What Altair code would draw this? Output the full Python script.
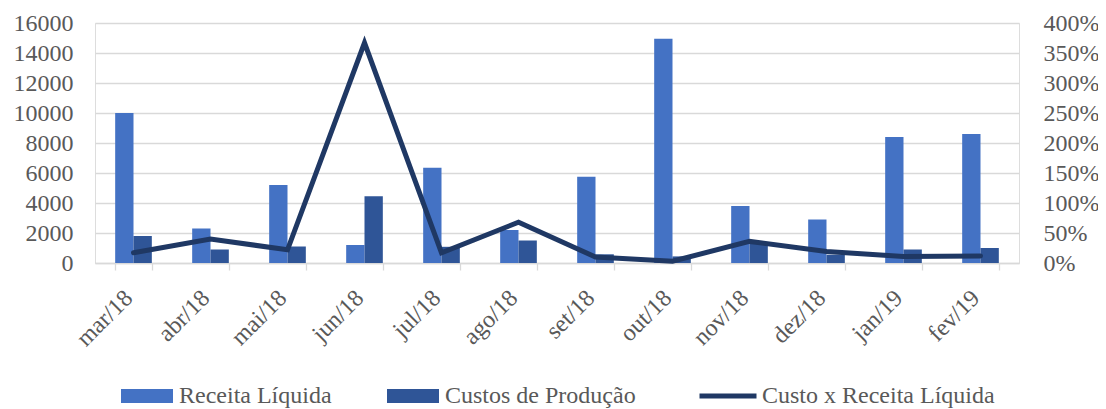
import altair as alt
import pandas as pd

months = ["mar/18", "abr/18", "mai/18", "jun/18", "jul/18", "ago/18",
          "set/18", "out/18", "nov/18", "dez/18", "jan/19", "fev/19"]
receita = [10000, 2300, 5200, 1200, 6350, 2200, 5750, 14950, 3800, 2900, 8400, 8600]
custos = [1800, 900, 1100, 4450, 1080, 1500, 580, 440, 1370, 550, 900, 1000]
ratio = [0.17, 0.40, 0.22, 3.67, 0.17, 0.68, 0.10, 0.03, 0.36, 0.19, 0.11, 0.115]

bar_names = ["Receita Líquida", "Custos de Produção"]
line_name = "Custo x Receita Líquida"
bar_colors = ["#4472C4", "#2F5597"]
line_color = "#1F3864"

left_ticks = list(range(0, 16001, 2000))
right_ticks = [i * 0.5 for i in range(9)]

bars_df = pd.DataFrame(
    [{"month": m, "series": bar_names[0], "value": v} for m, v in zip(months, receita)]
    + [{"month": m, "series": bar_names[1], "value": v} for m, v in zip(months, custos)]
)
line_df = pd.DataFrame({"month": months, "series": line_name, "ratio": ratio})

FONT = "Liberation Serif"
GRAY = "#595959"
GRID = "#d9d9d9"

x_axis = alt.Axis(
    title=None, labelAngle=-45, labelAlign="right", labelBaseline="middle",
    labelFontSize=24, labelFont=FONT, labelColor=GRAY, labelPadding=24, labelOffset=-5,
    tickBand="extent", tickSize=7, tickColor=GRID, tickWidth=1.3,
    domainColor=GRID, domainWidth=1.3, grid=False,
)
x_scale = alt.Scale(paddingInner=0.524, paddingOuter=0.262)

bars = alt.Chart(bars_df).mark_bar().encode(
    x=alt.X("month:N", sort=months, scale=x_scale, axis=x_axis),
    xOffset=alt.XOffset("series:N", sort=bar_names,
                        scale=alt.Scale(paddingInner=0, paddingOuter=0)),
    y=alt.Y("value:Q", scale=alt.Scale(domain=[0, 16000], nice=False),
            axis=alt.Axis(title=None, orient="left", values=left_ticks, format="d",
                          grid=True, gridColor=GRID, gridWidth=1.3, domain=False,
                          ticks=False, labelPadding=22, labelFontSize=24,
                          labelFont=FONT, labelColor=GRAY)),
    color=alt.Color("series:N", sort=bar_names,
                    scale=alt.Scale(domain=bar_names, range=bar_colors),
                    legend=alt.Legend(title=None, orient="none", legendX=26, legendY=347,
                                      direction="horizontal", padding=0,
                                      symbolType="M-1,-0.27H1V0.27H-1Z", symbolSize=2704,
                                      symbolStrokeWidth=0, labelOffset=6,
                                      columnPadding=55, labelFontSize=24,
                                      labelFont=FONT, labelColor=GRAY, labelLimit=400)),
)

line = alt.Chart(line_df).mark_line(strokeWidth=5, strokeCap="round").encode(
    x=alt.X("month:N", sort=months, scale=x_scale, axis=x_axis, bandPosition=0.5),
    y=alt.Y("ratio:Q", scale=alt.Scale(domain=[0, 4], nice=False),
            axis=alt.Axis(title=None, orient="right", values=right_ticks, format=".0%",
                          grid=False, domain=False, ticks=False, labelPadding=24,
                          labelFontSize=24, labelFont=FONT, labelColor=GRAY)),
    stroke=alt.Stroke("series:N", scale=alt.Scale(domain=[line_name], range=[line_color]),
                      legend=alt.Legend(title=None, orient="none", legendX=602, legendY=342,
                                        padding=0, symbolType="stroke", symbolSize=3249,
                                        symbolStrokeWidth=5, labelOffset=3,
                                        labelFontSize=24, labelFont=FONT,
                                        labelColor=GRAY, labelLimit=400)),
)

chart = alt.layer(bars, line).resolve_scale(y="independent").properties(
    width=924, height=240,
    autosize=alt.AutoSizeParams(type="none"),
    padding={"left": 87, "top": 15, "right": 79, "bottom": 146},
).configure_view(stroke=None).configure(background="white")

chart.save("out.html", embed_options={"renderer": "svg", "actions": False})
